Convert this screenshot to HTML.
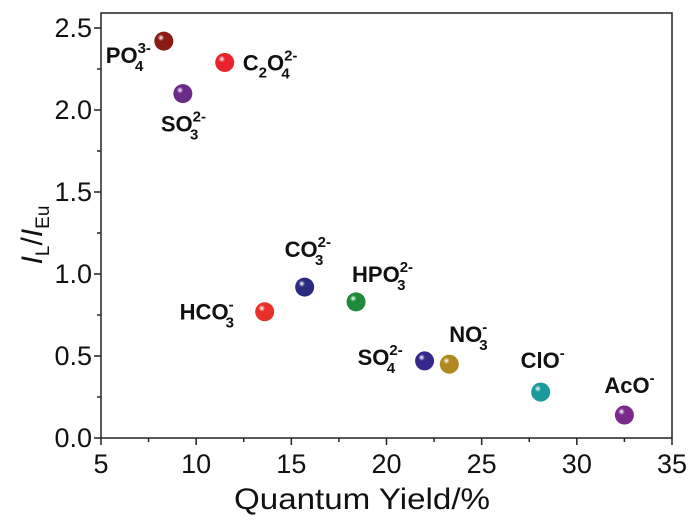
<!DOCTYPE html>
<html><head><meta charset="utf-8"><style>
body{margin:0;background:#fff;}
svg{display:block;font-family:"Liberation Sans",Arial,sans-serif;}
</style></head><body>
<svg id="chart" width="700" height="521" viewBox="0 0 700 521">
<defs id="defs"></defs>
<g id="axes"></g>
<g id="points"></g>
<g id="labels"></g>
</svg>
<script>
const names = ["PO4","C2O4","SO3","CO3","HCO3","HPO3","SO4","NO3","ClO","AcO"];
const xValues = [8.3,11.5,9.3,15.7,13.6,18.4,22.0,23.3,28.1,32.5];
const yValues = [2.42,2.29,2.10,0.92,0.77,0.83,0.47,0.45,0.28,0.14];
const xTicks = [5,10,15,20,25,30,35];
const yTicks = [0.0,0.5,1.0,1.5,2.0,2.5];
const yTickLabels = ["0.0","0.5","1.0","1.5","2.0","2.5"];
const colors = ["#8a1a14","#e8232a","#6a2a8a","#2a2a80","#e8302a","#1e8a3a","#35288a","#b08a20","#1a9a9a","#7a2a8a"];
// label: [main, sub, sup, dx, dy]
const labelParts = [
 ["PO","4","3-",-58,22],["C","2","",18,8],["SO","3","2-",-22,38],["CO","3","2-",-20,-30],
 ["HCO","3","-",-85,8],["HPO","3","2-",-4,-20],["SO","4","2-",-67,4],["NO","3","-",0,-22],
 ["ClO","","-",-20,-24],["AcO","","-",-20,-22]
];
const X0=101,X1=672,Y0=438,Y1=13;
function sx(v){return X0+(v-5)/30*(X1-X0);}
function sy(v){return Y0-v/2.5*(Y0-28);}
const NS="http://www.w3.org/2000/svg";
function mk(t,a,p){const e=document.createElementNS(NS,t);for(const k in a)e.setAttribute(k,a[k]);p.appendChild(e);return e;}
const ax=document.getElementById('axes');
const frame=mk('rect',{x:X0,y:Y1,width:X1-X0,height:Y0-Y1,fill:'none',stroke:'#222','stroke-width':1.5},ax);


xTicks.forEach((t,i)=>{
 const x=sx(t);
 mk('line',{x1:x,x2:x,y1:Y0,y2:Y0+7,stroke:'#222','stroke-width':1.5},ax);
 if(i<xTicks.length-1){const m=sx(t+2.5);mk('line',{x1:m,x2:m,y1:Y0,y2:Y0+4,stroke:'#222','stroke-width':1.5},ax);}
 const tx=mk('text',{x:x,y:473,'font-size':27,'text-anchor':'middle',fill:'#111'},ax);
 tx.textContent=t;
 
 
});
yTicks.forEach((t,i)=>{
 const y=sy(t);
 mk('line',{x1:X0-7,x2:X0,y1:y,y2:y,stroke:'#222','stroke-width':1.5},ax);
 if(i<yTicks.length-1){const m=sy(t+0.25);mk('line',{x1:X0-4,x2:X0,y1:m,y2:m,stroke:'#222','stroke-width':1.5},ax);}
 const tx=mk('text',{x:92,y:y+9,'font-size':27,'text-anchor':'end',fill:'#111'},ax);
 tx.textContent=yTickLabels[i];
 
 
});
const xt=mk('text',{x:362,y:509,'font-size':30,'text-anchor':'middle',fill:'#111',textLength:256,lengthAdjust:'spacingAndGlyphs'},ax);
xt.textContent="Quantum Yield/%";


const yt=mk('text',{transform:'translate(42,235) rotate(-90)','font-size':30,'text-anchor':'middle',fill:'#111'},ax);
yt.innerHTML='<tspan font-style="italic">I</tspan><tspan font-size="19" dy="7">L</tspan><tspan dy="-7">/</tspan><tspan font-style="italic">I</tspan><tspan font-size="19" dy="7">Eu</tspan>';


const defs=document.getElementById('defs');
const pg=document.getElementById('points'),lg=document.getElementById('labels');
names.forEach((n,i)=>{
 const g=mk('radialGradient',{id:'g'+i,cx:'35%',cy:'32%',r:'70%'},defs);
 mk('stop',{offset:'0%','stop-color':'#fff'},g);
 mk('stop',{offset:'25%','stop-color':colors[i]},g);
 mk('stop',{offset:'100%','stop-color':colors[i]},g);
 const cx=sx(xValues[i]),cy=sy(yValues[i]);
 const c=mk('circle',{cx:cx,cy:cy,r:9.5,fill:'url(#g'+i+')'},pg);
 
 
 const L=labelParts[i];
 const t=mk('text',{x:cx+L[3],y:cy+L[4],'font-size':22,'font-weight':'bold',fill:'#111'},lg);
 let h='<tspan>'+L[0]+'</tspan>';
 if(L[1]||L[2]){
  h+='<tspan font-size="15" dy="-10">'+(L[2]||'\u200b')+'</tspan>';
  if(L[1]){h+='<tspan font-size="15" dx="-'+(L[2].length*8)+'" dy="18">'+L[1]+'</tspan>';}
 }
 if(n==="C2O4"){h='<tspan>C</tspan><tspan font-size="15" dy="7">2</tspan><tspan dy="-7">O</tspan><tspan font-size="15" dy="-10">2-</tspan><tspan font-size="15" dx="-16" dy="18">4</tspan>';}
 t.innerHTML=h;
 
 
});
</script>
</body></html>
